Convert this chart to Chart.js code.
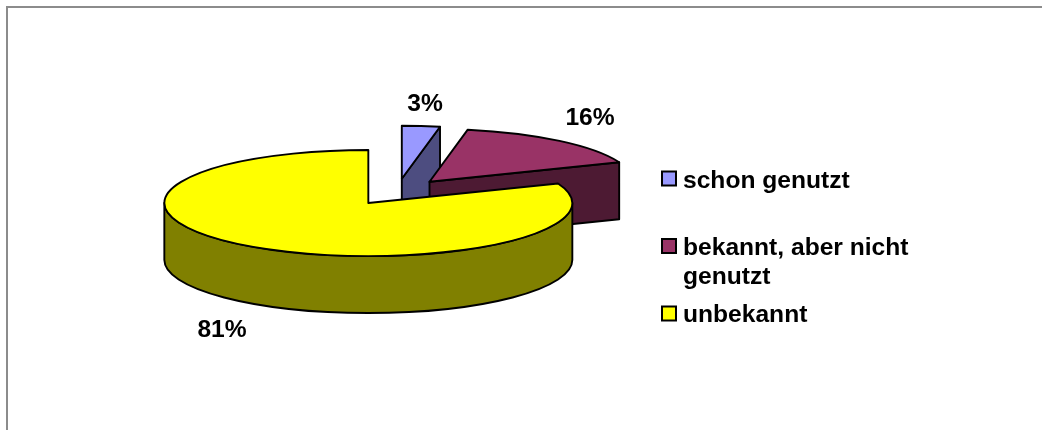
<!DOCTYPE html>
<html>
<head>
<meta charset="utf-8">
<style>html,body{margin:0;padding:0;background:#fff}canvas{display:block}</style>
<script src="https://cdn.jsdelivr.net/npm/chart.js@4"></script>
</head>
<body>
<canvas id="c" width="1042" height="430"></canvas>
<script>
const categories = ['schon genutzt', 'bekannt, aber nicht genutzt', 'unbekannt'];
const legendLines = [['schon genutzt'], ['bekannt, aber nicht', 'genutzt'], ['unbekannt']];
const values = [3, 16, 81];
const sliceColors = ['#9999FF', '#993366', '#FFFF00'];
const sideColors = ['#4D4D80', '#4D1A33', '#808000'];
const explode = [51, 51, 51];

const TILT = 0.26, DEPTH = 57, LINE = 1.9, FONT = 'bold 24.6px "Liberation Sans", Arial, sans-serif';
const labelPos = [[425, 104], [590, 118], [222, 330]];
const legendPos = { x: 662, boxSize: 14, textX: 683, y: [178.5, 246, 313.5], textY: [181, 248, 315], lineH: 29 };

const pie3d = {
  id: 'pie3d',
  beforeDraw(chart) {
    const ctx = chart.ctx;
    ctx.save();
    ctx.fillStyle = '#fff';
    ctx.fillRect(0, 0, chart.width, chart.height);
    ctx.fillStyle = '#8C8C8C';
    ctx.fillRect(6, 6, chart.width - 6, 2);
    ctx.fillRect(6, 6, 2, chart.height - 6);
    ctx.restore();
  },
  beforeDatasetsDraw(chart) {
    const ctx = chart.ctx;
    const arcs = chart.getDatasetMeta(0).data;
    arcs.forEach((arc, i) => {
      const { x, y, startAngle: a0, endAngle: a1, outerRadius: R } = arc.getProps(['x', 'y', 'startAngle', 'endAngle', 'outerRadius'], true);
      const mid = (a0 + a1) / 2, off = explode[i];
      const ax = x + Math.cos(mid) * off, ay = y + Math.sin(mid) * off * TILT;
      const px = a => ax + Math.cos(a) * R, py = a => ay + Math.sin(a) * R * TILT;
      ctx.save();
      ctx.lineWidth = LINE;
      ctx.strokeStyle = '#000';
      ctx.lineJoin = 'round';
      ctx.fillStyle = sideColors[i];
      // cut faces that look towards the viewer
      [[a0, Math.cos(a0) < -1e-6], [a1, Math.cos(a1) > 1e-6]].forEach(([a, vis]) => {
        if (!vis) return;
        ctx.beginPath();
        ctx.moveTo(ax, ay);
        ctx.lineTo(px(a), py(a));
        ctx.lineTo(px(a), py(a) + DEPTH);
        ctx.lineTo(ax, ay + DEPTH);
        ctx.closePath();
        ctx.fill();
        ctx.stroke();
      });
      // outer wall on the front half
      const f0 = Math.max(a0, 0), f1 = Math.min(a1, Math.PI);
      if (f1 > f0) {
        ctx.beginPath();
        ctx.ellipse(ax, ay, R, R * TILT, 0, f0, f1);
        ctx.lineTo(px(f1), py(f1) + DEPTH);
        ctx.ellipse(ax, ay + DEPTH, R, R * TILT, 0, f1, f0, true);
        ctx.closePath();
        ctx.fill();
        ctx.stroke();
      }
      // top face: the library arc, squashed and moved out along its mid angle
      ctx.save();
      ctx.translate(ax, ay);
      ctx.scale(1, TILT);
      ctx.translate(-x, -y);
      arc.draw(ctx);
      ctx.restore();
      ctx.beginPath();
      ctx.moveTo(ax, ay);
      ctx.ellipse(ax, ay, R, R * TILT, 0, a0, a1);
      ctx.closePath();
      ctx.stroke();
      ctx.restore();
    });
    return false;
  },
  afterDraw(chart) {
    const ctx = chart.ctx;
    const total = values.reduce((s, v) => s + v, 0);
    ctx.save();
    ctx.font = FONT;
    ctx.fillStyle = '#000';
    ctx.textBaseline = 'middle';
    ctx.textAlign = 'center';
    values.forEach((v, i) => ctx.fillText(Math.round(v / total * 100) + '%', labelPos[i][0], labelPos[i][1]));
    ctx.textAlign = 'left';
    legendLines.forEach((lines, i) => {
      const cy = legendPos.y[i], s = legendPos.boxSize;
      ctx.fillStyle = sliceColors[i];
      ctx.strokeStyle = '#000';
      ctx.lineWidth = 2;
      ctx.fillRect(legendPos.x, cy - s / 2, s, s);
      ctx.strokeRect(legendPos.x, cy - s / 2, s, s);
      ctx.fillStyle = '#000';
      lines.forEach((t, j) => ctx.fillText(t, legendPos.textX, legendPos.textY[i] + j * legendPos.lineH));
    });
    ctx.restore();
  }
};

new Chart(document.getElementById('c'), {
  type: 'pie',
  data: {
    labels: categories,
    datasets: [{ data: values, backgroundColor: sliceColors, borderWidth: 0, radius: 204 }]
  },
  options: {
    responsive: false,
    animation: false,
    layout: { padding: { left: 0, top: 0, right: 248, bottom: 46 } },
    plugins: { legend: { display: false }, tooltip: { enabled: false } }
  },
  plugins: [pie3d]
});
</script>
</body>
</html>
